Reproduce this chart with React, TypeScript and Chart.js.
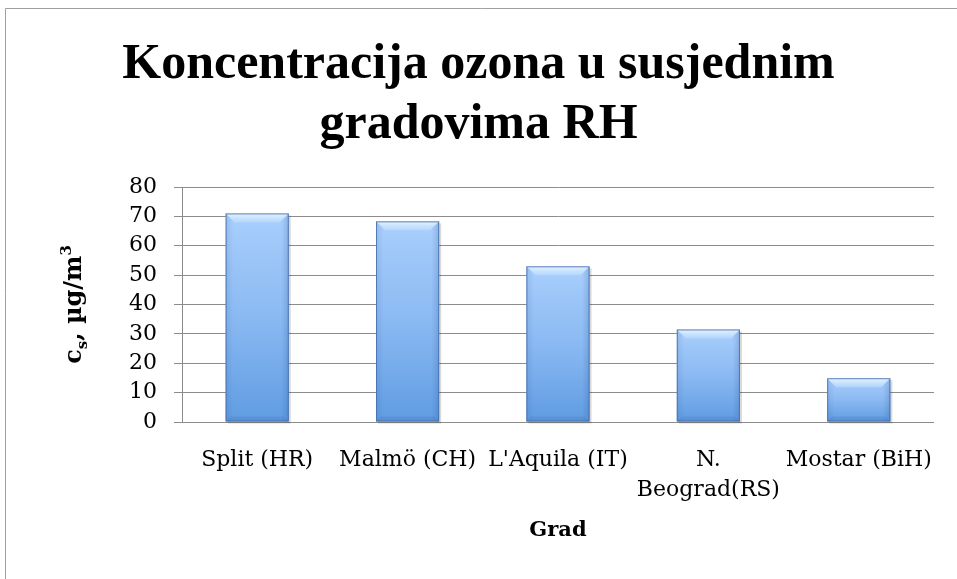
import React, { useEffect, useRef } from 'react';
import { Chart, registerables } from 'chart.js';

Chart.register(...registerables);

const categoryLabels: (string | string[])[] = [
  'Split (HR)',
  'Malmö (CH)',
  "L'Aquila (IT)",
  ['N.', 'Beograd(RS)'],
  'Mostar (BiH)',
];
const ozoneValues = [71, 68.3, 53, 31.5, 14.9];
const yTickValues = [0, 10, 20, 30, 40, 50, 60, 70, 80];
const titleLines = ['Koncentracija ozona u susjednim', 'gradovima RH'];
const xAxisTitle = 'Grad';
const yTitleParts = [
  { text: 'c', kind: 'normal' },
  { text: 's', kind: 'sub' },
  { text: ', µg/m', kind: 'normal' },
  { text: '3', kind: 'sup' },
];

const SERIF = '"DejaVu Serif", serif';

const framePlugin = {
  id: 'frame',
  beforeDraw(chart: any) {
    const { ctx, width, height } = chart;
    ctx.save();
    ctx.fillStyle = '#ffffff';
    ctx.fillRect(0, 0, width, height);
    ctx.strokeStyle = '#a0a0a0';
    ctx.lineWidth = 1;
    ctx.beginPath();
    ctx.moveTo(5.5, height);
    ctx.lineTo(5.5, 8.5);
    ctx.lineTo(width, 8.5);
    ctx.stroke();
    ctx.restore();
  },
};

const barStylePlugin = {
  id: 'barStyle',
  beforeDatasetsDraw(chart: any) {
    const { ctx } = chart;
    const meta = chart.getDatasetMeta(0);
    ctx.save();
    meta.data.forEach((bar: any) => {
      const l = bar.x - bar.width / 2;
      const t = bar.y;
      const h = bar.base - bar.y;
      ctx.fillStyle = 'rgba(0,0,0,0.15)';
      ctx.fillRect(l + 2, t + 2, bar.width, h);
    });
    ctx.restore();
  },
  afterDatasetsDraw(chart: any) {
    const { ctx } = chart;
    const meta = chart.getDatasetMeta(0);
    ctx.save();
    meta.data.forEach((bar: any) => {
      const l = bar.x - bar.width / 2;
      const r = bar.x + bar.width / 2;
      const t = bar.y;
      const b = bar.base;
      const bv = Math.min(9, (b - t) / 3);
      // side shading (horizontal gradient)
      const gSide = ctx.createLinearGradient(l, 0, r, 0);
      gSide.addColorStop(0, 'rgba(30,70,140,0.12)');
      gSide.addColorStop(0.12, 'rgba(30,70,140,0)');
      gSide.addColorStop(0.88, 'rgba(30,70,140,0)');
      gSide.addColorStop(1, 'rgba(30,70,140,0.2)');
      ctx.fillStyle = gSide;
      ctx.fillRect(l, t, r - l, b - t);
      // top bevel
      const gTop = ctx.createLinearGradient(0, t, 0, t + bv);
      gTop.addColorStop(0, 'rgba(235,246,255,0.95)');
      gTop.addColorStop(1, 'rgba(195,225,254,0.5)');
      ctx.fillStyle = gTop;
      ctx.beginPath();
      ctx.moveTo(l, t);
      ctx.lineTo(r, t);
      ctx.lineTo(r - bv, t + bv);
      ctx.lineTo(l + bv, t + bv);
      ctx.closePath();
      ctx.fill();
      // bottom
      ctx.fillStyle = 'rgba(30,70,140,0.12)';
      ctx.beginPath();
      ctx.moveTo(l, b);
      ctx.lineTo(l + 5, b - 5);
      ctx.lineTo(r - 5, b - 5);
      ctx.lineTo(r, b);
      ctx.closePath();
      ctx.fill();
      // outline
      ctx.strokeStyle = 'rgba(70,110,170,0.85)';
      ctx.lineWidth = 1;
      ctx.strokeRect(l + 0.5, t + 0.5, r - l - 1, b - t - 1);
    });
    ctx.restore();
  },
};

const yTitlePlugin = {
  id: 'yTitleCustom',
  afterDraw(chart: any) {
    const { ctx, chartArea } = chart;
    const cy = (chartArea.top + chartArea.bottom) / 2;
    const big = `bold 24px ${SERIF}`;
    const small = `bold 15px ${SERIF}`;
    ctx.save();
    ctx.translate(81, cy);
    ctx.rotate(-Math.PI / 2);
    ctx.fillStyle = '#000';
    ctx.textBaseline = 'alphabetic';
    ctx.textAlign = 'left';
    let total = 0;
    const widths = yTitleParts.map((p) => {
      ctx.font = p.kind === 'normal' ? big : small;
      const w = ctx.measureText(p.text).width;
      total += w;
      return w;
    });
    let x = -total / 2;
    yTitleParts.forEach((p, i) => {
      ctx.font = p.kind === 'normal' ? big : small;
      const dy = p.kind === 'sub' ? 6 : p.kind === 'sup' ? -10 : 0;
      ctx.fillText(p.text, x, dy);
      x += widths[i];
    });
    ctx.restore();
  },
};

export default function App() {
  const canvasRef = useRef<HTMLCanvasElement | null>(null);

  useEffect(() => {
    document.body.style.margin = '0';
    const canvas = canvasRef.current;
    if (!canvas) return;
    const chart = new Chart(canvas, {
      type: 'bar',
      data: {
        labels: categoryLabels,
        datasets: [
          {
            data: ozoneValues,
            borderWidth: 0,
            barPercentage: 0.42,
            categoryPercentage: 1,
            backgroundColor: (c: any) => {
              const ch = c.chart;
              if (!ch.chartArea || c.raw === undefined) return '#7fb2f0';
              const ys = ch.scales.y;
              const top = ys.getPixelForValue(c.raw);
              const base = ys.getPixelForValue(0);
              const g = ch.ctx.createLinearGradient(0, top, 0, base);
              g.addColorStop(0, '#a9cffc');
              g.addColorStop(0.5, '#8ab9f2');
              g.addColorStop(1, '#5f9ce2');
              return g;
            },
          },
        ],
      },
      options: {
        responsive: false,
        animation: false,
        layout: { padding: { left: 22, right: 22, top: 0, bottom: 0 } },
        plugins: {
          legend: { display: false },
          tooltip: { enabled: false },
          title: {
            display: true,
            text: titleLines,
            color: '#000',
            font: { family: '"Liberation Serif", serif', size: 50, weight: 'bold', lineHeight: 1.2 },
            padding: { top: 35, bottom: 32 },
          },
        },
        scales: {
          x: {
            afterFit: (s: any) => {
              s.height = 157;
            },
            grid: { display: true, drawOnChartArea: false, drawTicks: false, color: '#8c8c8c' },
            border: { display: true, color: '#8c8c8c' },
            ticks: {
              color: '#000',
              padding: 23,
              maxRotation: 0,
              autoSkip: false,
              font: { family: SERIF, size: 22, lineHeight: 1.36 },
            },
            title: {
              display: true,
              text: xAxisTitle,
              color: '#000',
              font: { family: SERIF, size: 21, weight: 'bold', lineHeight: 1.2 },
              padding: { top: 0, bottom: 36 },
            },
          },
          y: {
            min: 0,
            max: 80,
            afterFit: (s: any) => {
              s.width = 160;
            },
            afterBuildTicks: (axis: any) => {
              axis.ticks = yTickValues.map((v) => ({ value: v }));
            },
            grid: { color: '#8c8c8c', lineWidth: 1, tickLength: 8 },
            border: { display: true, color: '#8c8c8c' },
            ticks: {
              color: '#000',
              padding: 17,
              autoSkip: false,
              font: { family: SERIF, size: 22 },
            },
          },
        },
      },
      plugins: [framePlugin, barStylePlugin, yTitlePlugin],
    });
    return () => chart.destroy();
  }, []);

  return (
    <div style={{ width: 957, height: 579, position: 'relative' }}>
      <canvas ref={canvasRef} width={957} height={579} style={{ display: 'block' }} />
    </div>
  );
}
